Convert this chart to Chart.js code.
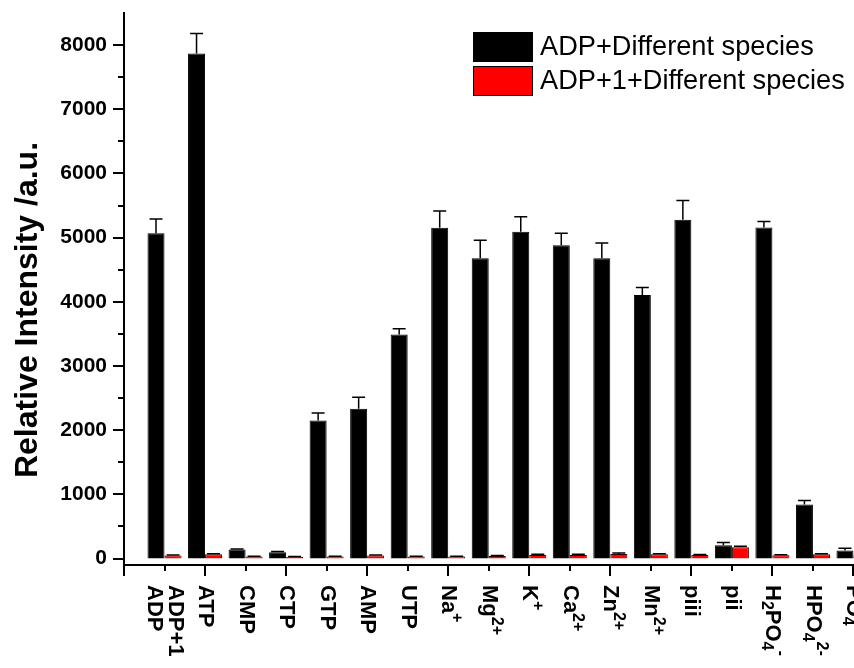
<!DOCTYPE html>
<html>
<head>
<meta charset="utf-8">
<script src="https://cdn.jsdelivr.net/npm/chart.js@4.4.1/dist/chart.umd.min.js"></script>
<style>
  html, body { margin: 0; padding: 0; background: #fff; overflow: hidden; }
  canvas { display: block; }
</style>
</head>
<body>
<canvas id="myChart" width="900" height="668"></canvas>
<script>
// categories (markup: _{..} subscript, ^{..} superscript, \n = second line)
const categories = ['ADP+1\nADP', 'ATP', 'CMP', 'CTP', 'GTP', 'AMP', 'UTP', 'Na^{+}', 'Mg^{2+}', 'K^{+}',
    'Ca^{2+}', 'Zn^{2+}', 'Mn^{2+}', 'piii', 'pii', 'H_{2}PO_{4}^{-}', 'HPO_{4}^{2-}', 'PO_{4}^{3-}'];
const blackValues = [5070, 7870, 140, 100, 2150, 2335, 3490, 5155, 4680, 5090, 4880, 4680, 4105, 5280, 207, 5160, 843, 125];
const blackErrors = [220, 310, 10, 10, 120, 180, 90, 260, 280, 235, 190, 235, 120, 300, 45, 90, 60, 35];
const redValues = [47, 67, 31, 27, 31, 47, 31, 31, 41, 56, 56, 72, 67, 56, 176, 52, 67, 50];
const redErrors = [8, 8, 6, 6, 6, 8, 6, 6, 8, 10, 10, 15, 10, 8, 15, 8, 10, 8];
const yTickValues = [0, 1000, 2000, 3000, 4000, 5000, 6000, 7000, 8000];
const seriesNames = ['ADP+Different species', 'ADP+1+Different species'];
const yTitle = 'Relative Intensity /a.u.';

const FONT = '"Liberation Sans", Arial, sans-serif';

// category axis padded with an empty slot at each end
const labels = [''].concat(categories, ['']);
const pad = arr => [null].concat(arr, [null]);

// parse markup into segments
function parseRich(str) {
    const segs = [];
    const re = /(_|\^)\{([^}]*)\}/g;
    let last = 0, m;
    while ((m = re.exec(str)) !== null) {
        if (m.index > last) segs.push({ t: str.slice(last, m.index), k: 'n' });
        segs.push({ t: m[2], k: m[1] === '_' ? 'sub' : 'sup' });
        last = re.lastIndex;
    }
    if (last < str.length) segs.push({ t: str.slice(last), k: 'n' });
    return segs;
}

function drawRich(ctx, str, y) {
    let x = 0;
    parseRich(str).forEach(s => {
        let dy = 0;
        if (s.k === 'n') ctx.font = 'bold 22px ' + FONT;
        else ctx.font = 'bold 16px ' + FONT;
        if (s.k === 'sub') dy = 6;
        if (s.k === 'sup') dy = -8;
        ctx.fillText(s.t, x, y + dy);
        x += ctx.measureText(s.t).width;
    });
}

const extras = {
    id: 'extras',
    afterDatasetsDraw(chart) {
        const ctx = chart.ctx;
        const y = chart.scales.y;
        const errs = [blackErrors, redErrors];
        const vals = [blackValues, redValues];
        ctx.save();
        ctx.strokeStyle = '#000';
        ctx.lineWidth = 1.5;
        [0, 1].forEach(d => {
            const meta = chart.getDatasetMeta(d);
            vals[d].forEach((v, i) => {
                const bar = meta.data[i + 1];
                if (!bar) return;
                const top = y.getPixelForValue(v + errs[d][i]);
                ctx.beginPath();
                ctx.moveTo(bar.x, bar.y);
                ctx.lineTo(bar.x, top);
                ctx.moveTo(bar.x - 6.5, top);
                ctx.lineTo(bar.x + 6.5, top);
                ctx.stroke();
            });
        });
        ctx.restore();
    },
    afterDraw(chart) {
        const ctx = chart.ctx;
        const x = chart.scales.x;
        const y = chart.scales.y;
        const area = chart.chartArea;
        ctx.save();
        ctx.strokeStyle = '#000';
        ctx.lineWidth = 2;

        // y ticks (outward), minor ones halfway
        for (let v = 0; v <= 8000; v += 500) {
            const py = Math.round(y.getPixelForValue(v));
            const len = v % 1000 === 0 ? 11 : 6;
            ctx.beginPath();
            ctx.moveTo(area.left, py);
            ctx.lineTo(area.left - len, py);
            ctx.stroke();
        }
        // x ticks
        for (let i = 0; i < labels.length; i++) {
            const px = Math.round(x.getPixelForValue(i));
            const len = i % 2 === 0 ? 11 : 6;
            ctx.beginPath();
            ctx.moveTo(px, area.bottom);
            ctx.lineTo(px, area.bottom + len);
            ctx.stroke();
        }

        // x labels, rotated clockwise
        ctx.fillStyle = '#000';
        ctx.textAlign = 'left';
        ctx.textBaseline = 'middle';
        categories.forEach((c, i) => {
            const px = x.getPixelForValue(i + 1);
            const lines = c.split('\n');
            ctx.save();
            ctx.translate(px, area.bottom + 20);
            ctx.rotate(Math.PI / 2);
            lines.forEach((ln, j) => {
                const off = (j - (lines.length - 1) / 2) * 21;
                drawRich(ctx, ln, off);
            });
            ctx.restore();
        });

        // y title
        ctx.save();
        ctx.translate(28, 310);
        ctx.rotate(-Math.PI / 2);
        ctx.textAlign = 'center';
        ctx.font = 'bold 32px ' + FONT;
        ctx.fillText(yTitle, 0, 0);
        ctx.restore();

        // legend
        const boxes = [{ fill: '#000', y: 32 }, { fill: '#ff0000', y: 66 }];
        boxes.forEach((b, i) => {
            ctx.fillStyle = b.fill;
            ctx.fillRect(473, b.y, 60, 30);
            ctx.strokeStyle = '#000';
            ctx.lineWidth = 1;
            ctx.strokeRect(473.5, b.y + 0.5, 59, 29);
            ctx.fillStyle = '#000';
            ctx.font = '27.2px ' + FONT;
            ctx.textAlign = 'left';
            ctx.textBaseline = 'middle';
            ctx.fillText(seriesNames[i], 540, b.y + 16);
        });
        ctx.restore();
    }
};

new Chart(document.getElementById('myChart'), {
    type: 'bar',
    data: {
        labels: labels,
        datasets: [
            {
                label: seriesNames[0],
                data: pad(blackValues),
                backgroundColor: '#000',
                borderColor: '#000',
                borderWidth: 1
            },
            {
                label: seriesNames[1],
                data: pad(redValues),
                backgroundColor: '#ff0000',
                borderColor: '#3a0000',
                borderWidth: 1
            }
        ]
    },
    options: {
        responsive: false,
        animation: false,
        categoryPercentage: 0.84,
        barPercentage: 1.0,
        layout: { padding: { top: 13, right: 6, left: 0, bottom: 0 } },
        plugins: {
            legend: { display: false },
            tooltip: { enabled: false }
        },
        scales: {
            x: {
                offset: false,
                grid: { display: false, offset: false, drawTicks: false },
                border: { display: true, color: '#000', width: 2 },
                ticks: { display: false },
                afterFit: s => { s.height = 103; s.paddingLeft = 0; s.paddingRight = 0; }
            },
            y: {
                min: -100,
                max: 8500,
                grid: { display: false, drawTicks: false },
                border: { display: true, color: '#000', width: 2 },
                afterBuildTicks: s => { s.ticks = yTickValues.map(v => ({ value: v })); },
                ticks: {
                    padding: 17,
                    color: '#000',
                    font: { family: FONT, size: 21, weight: 'bold' },
                    callback: v => String(v)
                },
                afterFit: s => { s.width = 124; s.paddingTop = 0; s.paddingBottom = 0; }
            }
        }
    },
    plugins: [extras]
});
</script>
</body>
</html>
